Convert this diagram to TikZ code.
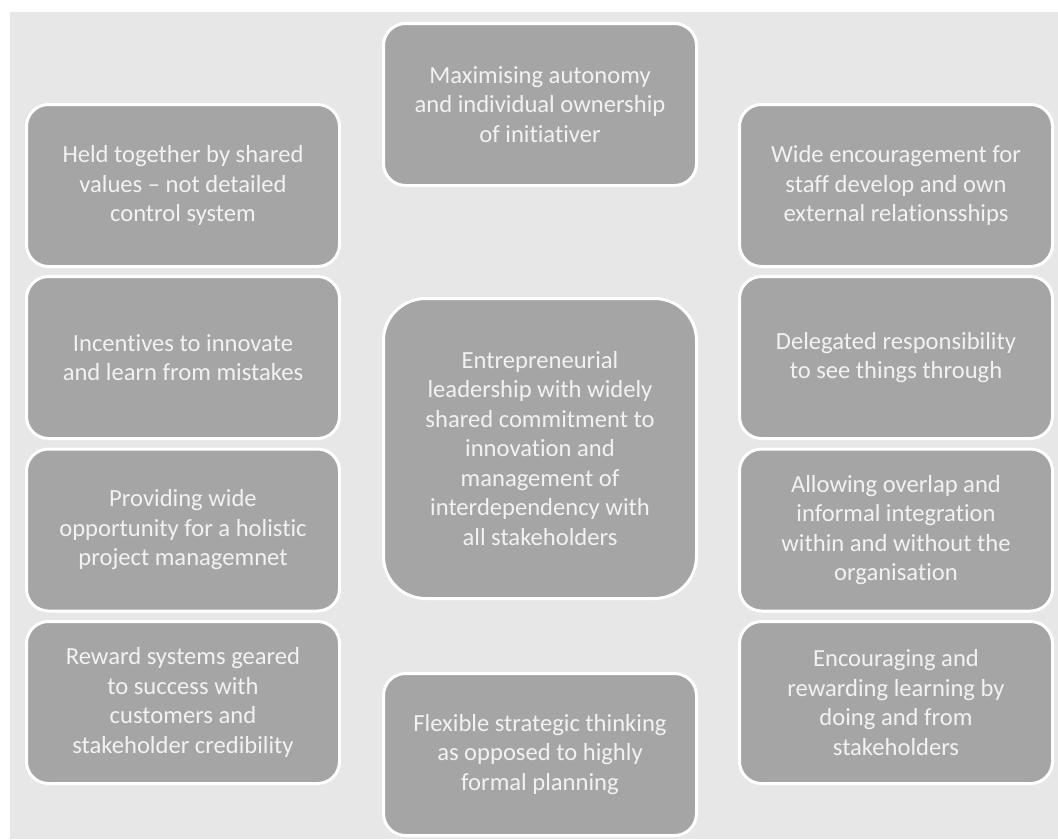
\documentclass[tikz,border=0pt]{standalone}
\usepackage{fontspec}
\setmainfont{Carlito}[Ligatures={NoCommon}]
\definecolor{panel}{HTML}{E7E7E7}
\definecolor{cardgray}{HTML}{A5A5A5}
\definecolor{cardtext}{HTML}{F2F2F2}
\begin{document}
\begin{tikzpicture}[x=1pt,y=-1pt,
  card/.style={draw=white, line width=3pt, fill=cardgray, rounded corners=22pt,
    minimum width=313pt, minimum height=162pt, inner sep=0pt,
    text=cardtext, align=center, font=\fontsize{24.6}{29.5}\selectfont},
  bigcard/.style={card, minimum height=300pt, rounded corners=42pt}]
\useasboundingbox (0,0) rectangle (1058,839);
\fill[white] (0,0) rectangle (1058,839);
\fill[panel] (10,12) rectangle (1058,839);

% centre column
\node[card] (top) at (540,104.5) {Maximising autonomy\\and individual ownership\\of initiativer};
\node[bigcard] (core) at (540,448.5) {Entrepreneurial\\leadership with widely\\shared commitment to\\innovation and\\management of\\interdependency with\\all stakeholders};
\node[card] (bottom) at (540,754.5) {Flexible strategic thinking\\as opposed to highly\\formal planning};

% left column
\node[card] (l1) at (183,185.5) {Held together by shared\\values – not detailed\\control system};
\node[card] (l2) at (183,357.5) {Incentives to innovate\\and learn from mistakes};
\node[card] (l3) at (183,530) {Providing wide\\opportunity for a holistic\\project managemnet};
\node[card] (l4) at (183,702.5) {Reward systems geared\\to success with\\customers and\\stakeholder credibility};

% right column
\node[card] (r1) at (896,185.5) {Wide encouragement for\\staff develop and own\\external relationsships};
\node[card] (r2) at (896,357.5) {Delegated responsibility\\to see things through};
\node[card] (r3) at (896,530) {Allowing overlap and\\informal integration\\within and without the\\organisation};
\node[card] (r4) at (896,702.5) {Encouraging and\\rewarding learning by\\doing and from\\stakeholders};
\end{tikzpicture}
\end{document}
